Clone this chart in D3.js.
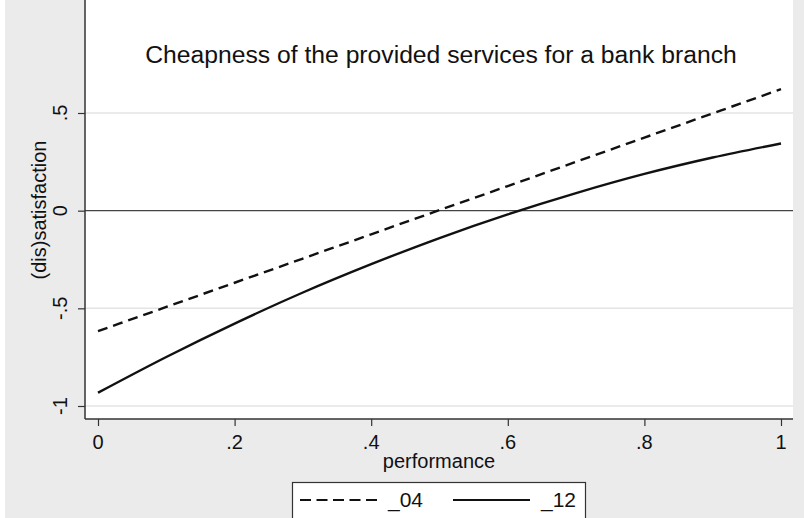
<!DOCTYPE html>
<html>
<head>
<meta charset="utf-8">
<script src="https://cdn.jsdelivr.net/npm/d3@7"></script>
<style>
  html, body { margin: 0; padding: 0; background: #ffffff; }
  svg { display: block; }
  text { font-family: "Liberation Sans", Arial, sans-serif; fill: #111; }
</style>
</head>
<body>
<svg id="chart" width="804" height="518"></svg>
<script>
// ---- data ----
const xValues   = [0, 0.1, 0.2, 0.3, 0.4, 0.5, 0.6, 0.7, 0.8, 0.9, 1.0];
const series04  = [-0.617, -0.493, -0.369, -0.245, -0.121, 0.003, 0.126, 0.250, 0.374, 0.498, 0.622];
const series12  = [-0.932, -0.749, -0.578, -0.419, -0.274, -0.140, -0.019, 0.090, 0.188, 0.272, 0.344];
const seriesNames = ["_04", "_12"];
const xTicks = [0, 0.2, 0.4, 0.6, 0.8, 1];
const yTicks = [-1, -0.5, 0, 0.5];
const gridTicks = [-1, -0.5, 0.5];
const titleText = "Cheapness of the provided services for a bank branch";
const xTitle = "performance";
const yTitle = "(dis)satisfaction";

const fmt = v => {
  if (v === 0) return "0";
  if (v === 1) return "1";
  let s = String(v);
  return s.replace(/^(-?)0\./, "$1.");
};

const svg = d3.select("#chart");
const W = 804, H = 518;
const plot = {left: 85, right: 793, top: 0, bottom: 419};

const x = d3.scaleLinear().domain([0, 1]).range([98, 781]);
const y = d3.scaleLinear().domain([-1, 0.5]).range([406, 113]);

// backgrounds
svg.append("rect").attr("x", 0).attr("y", 0).attr("width", W).attr("height", H).attr("fill", "#ffffff");
svg.append("rect").attr("x", 5).attr("y", 0).attr("width", W - 5).attr("height", H).attr("fill", "#ebebeb");
svg.append("rect").attr("x", plot.left).attr("y", plot.top)
   .attr("width", plot.right - plot.left).attr("height", plot.bottom - plot.top)
   .attr("fill", "#ffffff");

// gridlines
svg.append("g").selectAll("line").data(gridTicks).join("line")
  .attr("x1", plot.left).attr("x2", plot.right)
  .attr("y1", d => y(d)).attr("y2", d => y(d))
  .attr("stroke", "#e4e4e4").attr("stroke-width", 1.5);

// zero reference line
svg.append("line")
  .attr("x1", plot.left).attr("x2", plot.right)
  .attr("y1", y(0)).attr("y2", y(0))
  .attr("stroke", "#444").attr("stroke-width", 1.2);

// series lines
const pts04 = xValues.map((v, i) => [v, series04[i]]);
const pts12 = xValues.map((v, i) => [v, series12[i]]);
const line = d3.line().x(d => x(d[0])).y(d => y(d[1])).curve(d3.curveMonotoneX);

svg.append("path").datum(pts04).attr("d", line)
  .attr("fill", "none").attr("stroke", "#111").attr("stroke-width", 2.4)
  .attr("stroke-dasharray", "10,6");
svg.append("path").datum(pts12).attr("d", line)
  .attr("fill", "none").attr("stroke", "#111").attr("stroke-width", 2.4);

// y axis
const yAxis = d3.axisLeft(y).tickValues(yTicks).tickSize(7).tickFormat("");
const gy = svg.append("g").attr("transform", `translate(${plot.left},0)`).call(yAxis);
gy.select(".domain").remove();
gy.selectAll(".tick line").attr("stroke", "#333").attr("stroke-width", 1.2);
svg.append("line").attr("x1", plot.left).attr("x2", plot.left)
  .attr("y1", plot.top).attr("y2", plot.bottom)
  .attr("stroke", "#333").attr("stroke-width", 1.5);
svg.append("g").selectAll("text").data(yTicks).join("text")
  .attr("transform", d => `translate(67,${y(d)}) rotate(-90)`)
  .attr("text-anchor", "middle")
  .attr("font-size", 20)
  .text(d => fmt(d));

// x axis
const xAxis = d3.axisBottom(x).tickValues(xTicks).tickSize(7).tickFormat("");
const gx = svg.append("g").attr("transform", `translate(0,${plot.bottom})`).call(xAxis);
gx.select(".domain").remove();
gx.selectAll(".tick line").attr("stroke", "#333").attr("stroke-width", 1.2);
svg.append("line").attr("x1", plot.left).attr("x2", plot.right)
  .attr("y1", plot.bottom).attr("y2", plot.bottom)
  .attr("stroke", "#333").attr("stroke-width", 1.5);
svg.append("g").selectAll("text").data(xTicks).join("text")
  .attr("x", d => x(d)).attr("y", 449)
  .attr("text-anchor", "middle")
  .attr("font-size", 20)
  .text(d => fmt(d));

// axis titles
svg.append("text").attr("x", 439).attr("y", 468)
  .attr("text-anchor", "middle").attr("font-size", 20).text(xTitle);
svg.append("text").attr("transform", "translate(46,210) rotate(-90)")
  .attr("text-anchor", "middle").attr("font-size", 20).text(yTitle);

// title
svg.append("text").attr("x", 441).attr("y", 63)
  .attr("text-anchor", "middle").attr("font-size", 24.7).text(titleText);

// legend
const lg = svg.append("g");
lg.append("rect").attr("x", 292.5).attr("y", 482.5).attr("width", 293).attr("height", 50)
  .attr("fill", "#ffffff").attr("stroke", "#333").attr("stroke-width", 1.2);
const legendItems = [
  {name: seriesNames[0], x0: 300, x1: 377, tx: 388, dash: "11,5.5"},
  {name: seriesNames[1], x0: 453, x1: 530, tx: 541, dash: null}
];
legendItems.forEach(it => {
  const l = lg.append("line").attr("x1", it.x0).attr("x2", it.x1)
    .attr("y1", 500).attr("y2", 500)
    .attr("stroke", "#111").attr("stroke-width", 2);
  if (it.dash) l.attr("stroke-dasharray", it.dash);
  lg.append("text").attr("x", it.tx).attr("y", 507).attr("font-size", 21).text(it.name);
});
</script>
</body>
</html>
